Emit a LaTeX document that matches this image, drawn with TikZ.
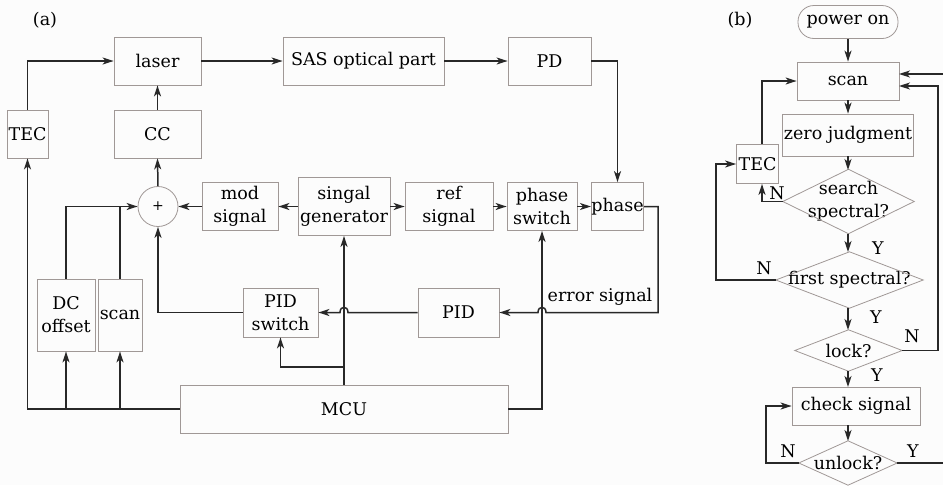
\documentclass[tikz,border=0pt]{standalone}
\usepackage{fontspec}
\setmainfont{DejaVu Serif}
\usetikzlibrary{arrows.meta}
\definecolor{boxgray}{RGB}{160,152,150}
\definecolor{linegray}{RGB}{40,40,40}
\definecolor{bgcol}{RGB}{252,252,252}
\begin{document}
\begin{tikzpicture}[x=1pt,y=-1pt,
  every node/.style={font=\fontsize{17.5}{23}\selectfont, inner sep=0pt, align=center, text=black},
  box/.style={draw=boxgray, line width=0.8pt, rectangle},
  boxline/.style={draw=boxgray, line width=0.8pt},
  con/.style={draw=linegray, line width=1.5pt, -{Stealth[length=11pt,width=7pt,inset=3pt]}},
  plain/.style={draw=linegray, line width=1.5pt},
  dlab/.style={font=\fontsize{17.5}{23}\selectfont}]
\fill[bgcol] (0,0) rectangle (943,485);
\useasboundingbox (0,0) rectangle (943,485);

% ---------- (a) ----------
\node (la) at (45,20) {(a)};
\node[box, minimum width=87pt, minimum height=48pt] (laser) at (157.5,61) {laser};
\node[box, minimum width=161pt, minimum height=48pt] (sas) at (363.5,61) {SAS optical part};
\node[box, minimum width=83pt, minimum height=48pt] (pd) at (549.5,61) {PD};
\node[box, minimum width=41pt, minimum height=48pt] (tec) at (27.5,134) {TEC};
\node[box, minimum width=87pt, minimum height=48pt] (cc) at (157.5,134) {CC};
\node[draw=boxgray, line width=0.8pt, circle, minimum size=40pt, font=\fontsize{14}{16}\selectfont] (sum) at (158,206.5) {+};
\node[box, minimum width=76pt, minimum height=48pt] (mod) at (240,206.5) {mod\\signal};
\node[box, minimum width=92pt, minimum height=58pt] (gen) at (344,206.5) {singal\\generator};
\node[box, minimum width=88pt, minimum height=48pt] (ref) at (449,206.5) {ref\\signal};
\node[box, minimum width=70pt, minimum height=48pt] (psw) at (542,206.5) {phase\\switch};
\node[box, minimum width=51pt, minimum height=48pt] (phase) at (617.5,206.5) {phase};
\node[box, minimum width=81pt, minimum height=49pt] (pid) at (458.5,312.5) {PID};
\node[box, minimum width=75pt, minimum height=49pt] (pidsw) at (280.5,312.5) {PID\\switch};
\node[box, minimum width=328pt, minimum height=48pt] (mcu) at (344,409) {MCU};
\node[box, minimum width=58pt, minimum height=72pt] (dc) at (66,315) {DC\\offset};
\node[box, minimum width=44pt, minimum height=72pt] (scana) at (120,315) {scan};
\node (err) at (600,297) {error signal};

\draw[con] (laser.east) -- (sas.west);
\draw[con] (sas.east) -- (pd.west);
\draw[con] (pd.east) -| (phase.north);
\draw[con] (tec.north) |- (laser.west);
\draw[con] (cc.north) -- (laser.south);
\draw[con] (sum.north) -- (cc.south);
\draw[con] (mod.west) -- (sum.east);
\draw[con] (gen.west) -- (mod.east);
\draw[con] (gen.east) -- (ref.west);
\draw[con] (ref.east) -- (psw.west);
\draw[con] (psw.east) -- (phase.west);
\draw[con] (phase.east) -- (658,206.5) -- (658,312.5) -- (546,312.5)
   .. controls (546,305.5) and (538,305.5) .. (538,312.5) -- (pid.east);
\draw[con] (pid.west) -- (348,312.5)
   .. controls (348,305.5) and (340,305.5) .. (340,312.5) -- (pidsw.east);
\draw[con] (pidsw.west) -| (sum.south);
\draw[con] (mcu.north) -- (gen.south);
\draw[con] (344,367) -| (pidsw.south);
\draw[con] (mcu.east) -| (psw.south);
\draw[con] (mcu.west) -| (tec.south);
\draw[con] (66,409) -- (dc.south);
\draw[con] (120,409) -- (scana.south);
\draw[con] (dc.north) |- (sum.west);
\draw[plain] (scana.north) -- (120,206.5);

% ---------- (b) ----------
\node (lb) at (740,20) {(b)};
\node[draw=boxgray, line width=0.8pt, rounded corners=16pt, minimum width=100pt, minimum height=33pt] (pwr) at (848,22) {power on};
\node[box, minimum width=102pt, minimum height=38pt] (scanb) at (848,81) {scan};
\node[box, minimum width=131pt, minimum height=42pt] (zero) at (848,135) {zero judgment};
\node[box, minimum width=42pt, minimum height=39pt] (tecb) at (757.5,164) {TEC};
\node[minimum width=131pt, minimum height=64pt] (search) at (848.5,201.5) {search\\spectral?};
\node[minimum width=147pt, minimum height=56pt] (first) at (849.5,280) {first spectral?};
\node[minimum width=107pt, minimum height=41pt] (lock) at (848.5,350.5) {lock?};
\node[box, minimum width=128pt, minimum height=38pt] (check) at (856,406) {check signal};
\node[minimum width=98pt, minimum height=44pt] (unlock) at (848,463) {unlock?};
\foreach \d in {search,first,lock,unlock}
  \draw[boxline] (\d.west) -- (\d.north) -- (\d.east) -- (\d.south) -- cycle;

\draw[con] (pwr.south) -- (scanb.north);
\draw[con] (scanb.south) -- (zero.north);
\draw[con] (zero.south) -- (848,170);
\draw[con] (search.west) -| ([xshift=4.5pt]tecb.south);
\draw[con] ([xshift=4.5pt]tecb.north) |- (scanb.west);
\draw[con] (848,233.5) -- (848,252);
\draw[con] (first.west) -- (716,280) |- (tecb.west);
\draw[con] (848,308) -- (848,330);
\draw[con] (lock.east) -- (938,350.5) -- (938,86) -- (899,86);
\draw[con] (848,371) -- (848,387);
\draw[con] (848,425) -- (848,441);
\draw[con] (unlock.west) -- (766,463) |- (check.west);
\coordinate (outr) at (943,463);
\draw[plain] (unlock.east) -- (outr);
\coordinate (inr) at (943,74);
\draw[con] (inr) -- (899,74);

\node[dlab] at (777,193) {N};
\node[dlab] at (878,248) {Y};
\node[dlab] at (764,268) {N};
\node[dlab] at (876,317) {Y};
\node[dlab] at (912,336) {N};
\node[dlab] at (877,375) {Y};
\node[dlab] at (788,451) {N};
\node[dlab] at (913,451) {Y};
\end{tikzpicture}
\end{document}
